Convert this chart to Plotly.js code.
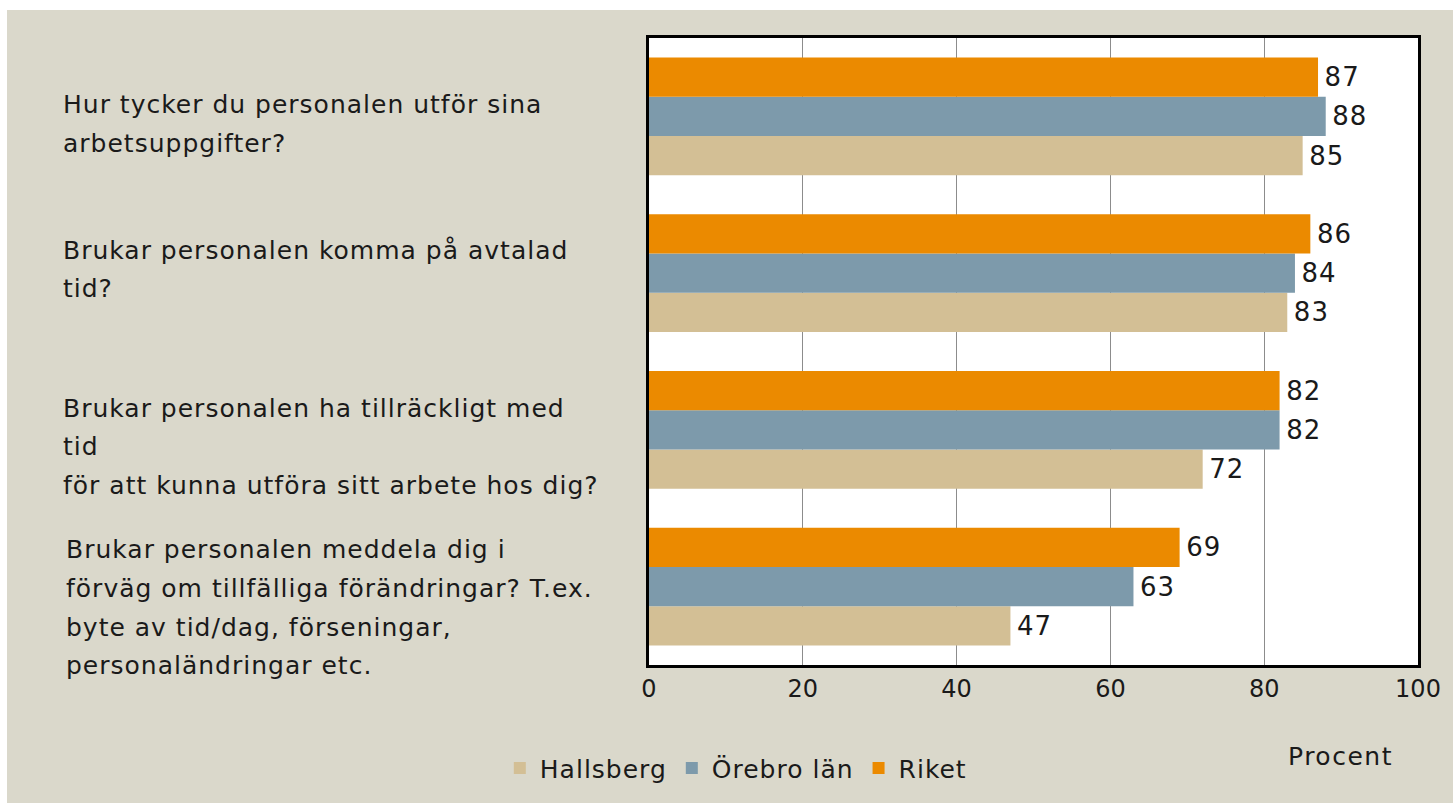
<!DOCTYPE html>
<html>
<head>
<meta charset="utf-8">
<script src="https://cdn.plot.ly/plotly-3.0.1.min.js"></script>
<style>
  html, body { margin: 0; padding: 0; background: #ffffff; }
  #chart { position: absolute; left: 7px; top: 10px; width: 1446px; height: 793px; }
</style>
</head>
<body>
<div id="chart"></div>
<script>
// ---- data ----
const categories = [
  "Hur tycker du personalen utför sina arbetsuppgifter?",
  "Brukar personalen komma på avtalad tid?",
  "Brukar personalen ha tillräckligt med tid för att kunna utföra sitt arbete hos dig?",
  "Brukar personalen meddela dig i förväg om tillfälliga förändringar? T.ex. byte av tid/dag, förseningar, personaländringar etc."
];
const categoryLines = [
  ["Hur tycker du personalen utför sina", "arbetsuppgifter?"],
  ["Brukar personalen komma på avtalad", "tid?"],
  ["Brukar personalen ha tillräckligt med", "tid", "för att kunna utföra sitt arbete hos dig?"],
  ["Brukar personalen meddela dig i", "förväg om tillfälliga förändringar? T.ex.", "byte av tid/dag, förseningar,", "personaländringar etc."]
];
const seriesNames = ["Hallsberg", "Örebro län", "Riket"];
const hallsberg = [85, 83, 72, 47];
const orebro = [88, 84, 82, 63];
const riket = [87, 86, 82, 69];
const xTicks = [0, 20, 40, 60, 80, 100];
const xTitle = "Procent";

// ---- styles / layout ----
const colors = ["#D3BF95", "#7D9AAB", "#EB8A00"];
const FONT = "DejaVu Sans, sans-serif";
const TXT = "#1a1a1a";
const sp = (t, ls) => '<span style="letter-spacing:' + ls + 'px">' + t + '</span>';
// label first-line centre (px from plot top) and line spacing
const labelTopPx = [67, 214, 373, 516];
const lineStep = 39;
const labelLeftPx = [-588, -588, -588, -585];
const plotH = 632, plotW = 769;

const values = [hallsberg, orebro, riket];
const traces = values.map((v, i) => ({
  type: "bar",
  orientation: "h",
  name: sp(seriesNames[i], 1),
  y: categories,
  x: v,
  text: v.map(n => sp("\u200A" + String(n), 1)),
  textposition: "outside",
  textfont: { family: FONT, size: 26, color: TXT },
  marker: { color: colors[i], line: { width: 0 } },
  cliponaxis: false,
  hoverinfo: "x"
}));

const annotations = [];
categoryLines.forEach((lines, ci) => {
  lines.forEach((ln, li) => {
    annotations.push({
      xref: "paper", yref: "paper",
      x: labelLeftPx[ci] / plotW,
      y: 1 - (labelTopPx[ci] + li * lineStep) / plotH,
      xanchor: "left", yanchor: "middle",
      text: sp(ln, 1), showarrow: false, align: "left",
      font: { family: FONT, size: 25, color: TXT }
    });
  });
});
annotations.push({
  xref: "paper", yref: "paper",
  x: 0.899, y: -0.146,
  xanchor: "center", yanchor: "middle",
  text: sp(xTitle, 1.5), showarrow: false,
  font: { family: FONT, size: 25, color: TXT }
});

const layout = {
  width: 1446, height: 793,
  paper_bgcolor: "#DAD8CB",
  plot_bgcolor: "#FFFFFF",
  margin: { l: 642, r: 35, t: 28, b: 133, pad: 0 },
  barmode: "group",
  bargap: 0.25,
  bargroupgap: 0,
  showlegend: true,
  legend: {
    orientation: "h",
    x: -0.194, xanchor: "left",
    y: -0.128, yanchor: "top",
    font: { family: FONT, size: 25, color: TXT },
    bgcolor: "rgba(0,0,0,0)",
    itemwidth: 30,
    traceorder: "normal"
  },
  xaxis: {
    range: [0, 100],
    tickvals: xTicks,
    ticktext: xTicks.map(String),
    ticks: "",
    tickfont: { family: FONT, size: 24, color: TXT },
    showgrid: true,
    gridcolor: "#8c8c8c",
    gridwidth: 1,
    zeroline: false,
    showline: true,
    linecolor: "#000000",
    linewidth: 3,
    mirror: true,
    fixedrange: true
  },
  yaxis: {
    type: "category",
    categoryorder: "array",
    categoryarray: categories.slice().reverse(),
    showticklabels: false,
    ticks: "",
    showgrid: false,
    zeroline: false,
    showline: true,
    linecolor: "#000000",
    linewidth: 3,
    mirror: true,
    fixedrange: true
  },
  annotations: annotations
};

Plotly.newPlot("chart", traces, layout, { displayModeBar: false, staticPlot: true });
</script>
</body>
</html>
